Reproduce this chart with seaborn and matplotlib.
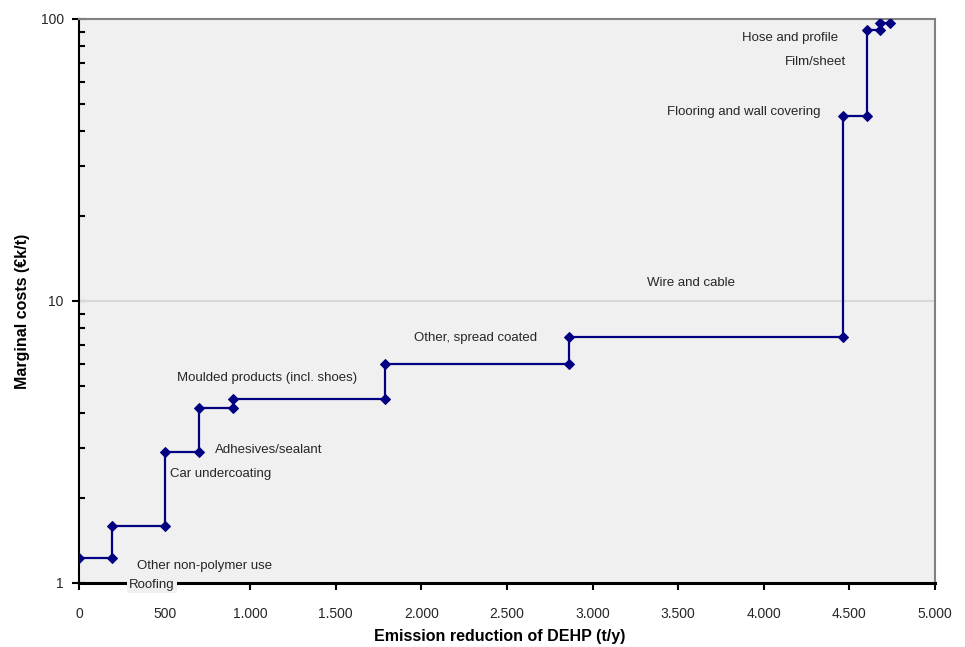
import numpy as np
import pandas as pd
import matplotlib
matplotlib.use("Agg")
import matplotlib.pyplot as plt
from matplotlib.ticker import FuncFormatter, LogLocator, NullFormatter, FixedLocator
import seaborn as sns

# Abatement options ordered by marginal cost
categories = [
    "Roofing",
    "Other non-polymer use",
    "Car undercoating",
    "Adhesives/sealant",
    "Moulded products (incl. shoes)",
    "Other, spread coated",
    "Wire and cable",
    "Flooring and wall covering",
    "Film/sheet",
    "Hose and profile",
]
# Cumulative emission reduction at the end of each option (t/y)
cumulative_reduction = [190, 500, 700, 900, 1790, 2860, 4460, 4605, 4680, 4735]
# Marginal cost of each option (EUR k/t)
marginal_cost = [1.23, 1.59, 2.91, 4.17, 4.49, 5.98, 7.45, 45.3, 91.4, 96.8]

x_ticks = [0, 500, 1000, 1500, 2000, 2500, 3000, 3500, 4000, 4500, 5000]
y_ticks = [1, 10, 100]

# Build the step curve vertices: each option spans from the previous cumulative value
starts = [0] + cumulative_reduction[:-1]
vx, vy = [], []
for s, e, c in zip(starts, cumulative_reduction, marginal_cost):
    vx += [s, e]
    vy += [c, c]
curve = pd.DataFrame({"reduction": vx, "cost": vy})

sns.set_style("white")
plt.rcParams["font.family"] = ["Liberation Sans", "DejaVu Sans"]

fig = plt.figure(figsize=(9.65, 6.47), dpi=100)
ax = fig.add_axes([79 / 965, 1 - 583 / 647, (935 - 79) / 965, (583 - 19) / 647])
ax.set_facecolor("#F0F0F0")

sns.lineplot(data=curve, x="reduction", y="cost", sort=False, estimator=None,
             color="#000080", linewidth=1.6, marker="D", markersize=5,
             markeredgecolor="#000080", ax=ax, zorder=3)

ax.set_yscale("log")
ax.set_xlim(0, 5000)
ax.set_ylim(1, 100)

ax.xaxis.set_major_locator(FixedLocator(x_ticks))
ax.xaxis.set_major_formatter(FuncFormatter(lambda v, p: f"{int(v):,}".replace(",", ".")))
ax.yaxis.set_major_locator(FixedLocator(y_ticks))
ax.yaxis.set_major_formatter(FuncFormatter(lambda v, p: f"{int(v)}"))
ax.yaxis.set_minor_locator(LogLocator(base=10, subs=np.arange(2, 10)))
ax.yaxis.set_minor_formatter(NullFormatter())

ax.grid(False)
ax.axhline(10, color="#D9D9D9", linewidth=1.5, zorder=1)

text_color = "#262626"
ax.tick_params(axis="x", which="major", direction="out", length=5, width=1.5,
               pad=12, labelsize=10, labelcolor=text_color, color="black", bottom=True)
ax.tick_params(axis="y", which="major", direction="inout", length=10, width=1.5,
               pad=6, labelsize=10, labelcolor=text_color, color="black", left=True)
ax.tick_params(axis="y", which="minor", direction="in", length=4, width=1.5,
               color="black", left=True)

for side in ("top", "right"):
    ax.spines[side].set_color("#808080")
    ax.spines[side].set_linewidth(1.5)
ax.spines["left"].set_color("black")
ax.spines["left"].set_linewidth(1.5)
ax.spines["bottom"].set_color("black")
ax.spines["bottom"].set_linewidth(2.2)

ax.set_xlabel("Emission reduction of DEHP (t/y)", fontsize=11.5, fontweight="bold",
              color="black", va="center")
ax.set_ylabel("Marginal costs (€k/t)", fontsize=11.5, fontweight="bold",
              color="black", va="center")
ax.xaxis.set_label_coords((500 - 79) / 856, (583 - 636) / 564)
ax.yaxis.set_label_coords((22 - 79) / 856, (583 - 311) / 564)

# Option labels placed next to their steps
label_pos = {
    "Roofing": (292, 0.984),
    "Other non-polymer use": (339, 1.149),
    "Car undercoating": (531, 2.435),
    "Adhesives/sealant": (794, 2.963),
    "Moulded products (incl. shoes)": (572, 5.33),
    "Other, spread coated": (1957, 7.39),
    "Wire and cable": (3318, 11.58),
    "Flooring and wall covering": (3435, 46.8),
    "Film/sheet": (4124, 70.4),
    "Hose and profile": (3873, 85.6),
}
for name in categories:
    px, py = label_pos[name]
    kw = {}
    if name == "Roofing":
        kw["bbox"] = dict(boxstyle="square,pad=0.15", facecolor="#F0F0F0", edgecolor="none")
    ax.text(px, py, name, ha="left", va="center", fontsize=9.5, color=text_color,
            clip_on=False, zorder=5, **kw)

fig.savefig("out.png", dpi=100, facecolor="white")
